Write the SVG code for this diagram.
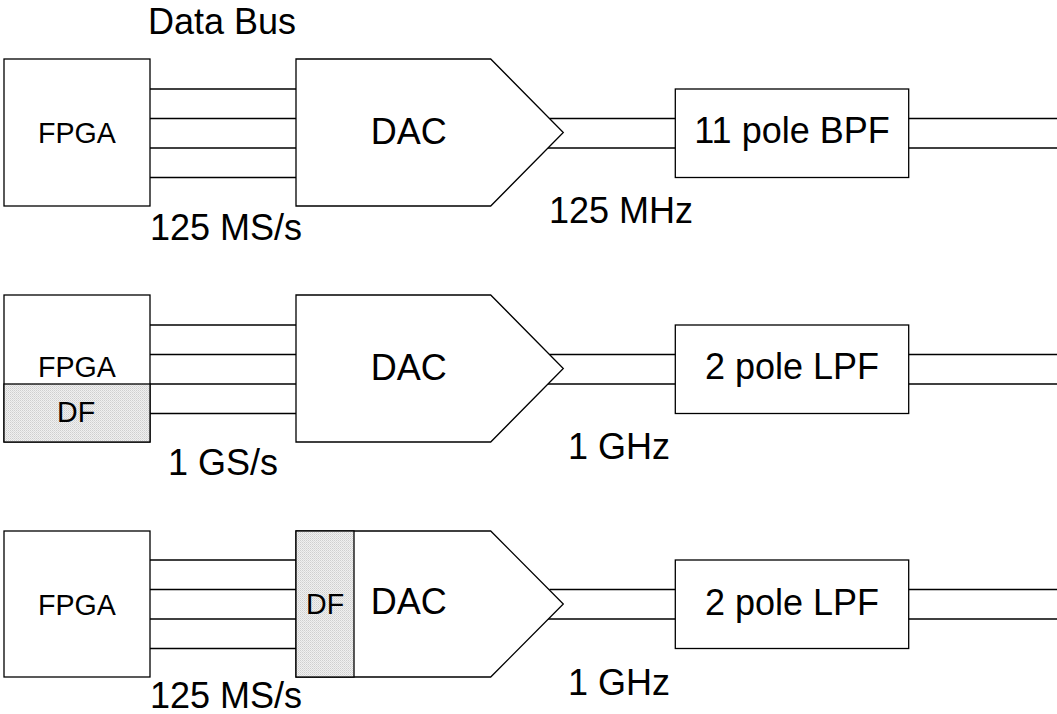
<svg xmlns="http://www.w3.org/2000/svg" width="1057" height="714" viewBox="0 0 1057 714">
<style>
.box{fill:#fff;stroke:#000;stroke-width:1.3}
.df{fill:url(#dots);stroke:#000;stroke-width:1.3}
.ln{stroke:#000;stroke-width:1.3;fill:none}
.t{font-family:"Liberation Sans",Arial,sans-serif;font-size:36px;fill:#000}
.s{font-family:"Liberation Sans",Arial,sans-serif;font-size:28.6px;fill:#000}
</style>
<defs>
<pattern id="dots" width="2" height="2" patternUnits="userSpaceOnUse">
<rect width="2" height="2" fill="#f0f0f0"/>
<rect width="1" height="1" fill="#cfcfcf"/>
<rect x="1" y="1" width="1" height="1" fill="#dcdcdc"/>
</pattern>
</defs>
<rect width="1057" height="714" fill="#fff"/>
<text class="t" x="148" y="34">Data Bus</text>

<g id="connectors">
<!-- row 1 -->
<line class="ln" x1="150" y1="89" x2="296" y2="89"/>
<line class="ln" x1="150" y1="118.5" x2="296" y2="118.5"/>
<line class="ln" x1="150" y1="148" x2="296" y2="148"/>
<line class="ln" x1="150" y1="177.5" x2="296" y2="177.5"/>
<line class="ln" x1="549.5" y1="118.5" x2="675.3" y2="118.5"/>
<line class="ln" x1="548" y1="148" x2="675.3" y2="148"/>
<line class="ln" x1="908.7" y1="118.5" x2="1057" y2="118.5"/>
<line class="ln" x1="908.7" y1="148" x2="1057" y2="148"/>
<!-- row 2 -->
<line class="ln" x1="150" y1="325" x2="296" y2="325"/>
<line class="ln" x1="150" y1="354.5" x2="296" y2="354.5"/>
<line class="ln" x1="150" y1="384" x2="296" y2="384"/>
<line class="ln" x1="150" y1="413.5" x2="296" y2="413.5"/>
<line class="ln" x1="549.5" y1="354.5" x2="675.3" y2="354.5"/>
<line class="ln" x1="548" y1="384" x2="675.3" y2="384"/>
<line class="ln" x1="908.7" y1="354.5" x2="1057" y2="354.5"/>
<line class="ln" x1="908.7" y1="384" x2="1057" y2="384"/>
<!-- row 3 -->
<line class="ln" x1="150" y1="560" x2="296" y2="560"/>
<line class="ln" x1="150" y1="589.5" x2="296" y2="589.5"/>
<line class="ln" x1="150" y1="619" x2="296" y2="619"/>
<line class="ln" x1="150" y1="648.5" x2="296" y2="648.5"/>
<line class="ln" x1="549.5" y1="589.5" x2="675.3" y2="589.5"/>
<line class="ln" x1="548" y1="619" x2="675.3" y2="619"/>
<line class="ln" x1="908.7" y1="589.5" x2="1057" y2="589.5"/>
<line class="ln" x1="908.7" y1="619" x2="1057" y2="619"/>
</g>

<!-- Row 1 -->
<g id="fpga1">
<rect class="box" x="4" y="59" width="146" height="147"/>
<text class="s" x="38" y="142.5">FPGA</text>
</g>
<g id="dac1">
<path class="box" d="M296,59 H490.7 L563.3,132.5 L490.7,206 H296 Z"/>
<text class="t" x="370.7" y="144">DAC</text>
</g>
<g id="bpf1">
<rect class="box" x="675.3" y="89" width="233.4" height="88.5"/>
<text class="t" x="792" y="143.3" text-anchor="middle">11 pole BPF</text>
</g>
<text class="t" x="150" y="240">125 MS/s</text>
<text class="t" x="549" y="223">125 MHz</text>

<!-- Row 2 -->
<g id="fpga2">
<rect class="box" x="4" y="295" width="146" height="147"/>
<rect class="df" x="4" y="384" width="146" height="58"/>
<text class="s" x="38" y="377">FPGA</text>
<text class="s" x="57" y="421.7">DF</text>
</g>
<g id="dac2">
<path class="box" d="M296,295 H490.7 L563.3,368.5 L490.7,442 H296 Z"/>
<text class="t" x="370.7" y="380">DAC</text>
</g>
<g id="lpf2">
<rect class="box" x="675.3" y="325" width="233.4" height="88.5"/>
<text class="t" x="792" y="379.3" text-anchor="middle">2 pole LPF</text>
</g>
<text class="t" x="168" y="475">1 GS/s</text>
<text class="t" x="568" y="459">1 GHz</text>

<!-- Row 3 -->
<g id="fpga3">
<rect class="box" x="4" y="531" width="146" height="146"/>
<text class="s" x="38" y="614.5">FPGA</text>
</g>
<g id="dac3">
<path class="box" d="M296,531 H490.7 L563.3,604 L490.7,677 H296 Z"/>
<rect class="df" x="296" y="531" width="58" height="146"/>
<text class="s" x="306" y="613.5">DF</text>
<text class="t" x="370.7" y="614">DAC</text>
</g>
<g id="lpf3">
<rect class="box" x="675.3" y="560" width="233.4" height="88.5"/>
<text class="t" x="792" y="615" text-anchor="middle">2 pole LPF</text>
</g>
<text class="t" x="150" y="707.5">125 MS/s</text>
<text class="t" x="568" y="695">1 GHz</text>
</svg>
